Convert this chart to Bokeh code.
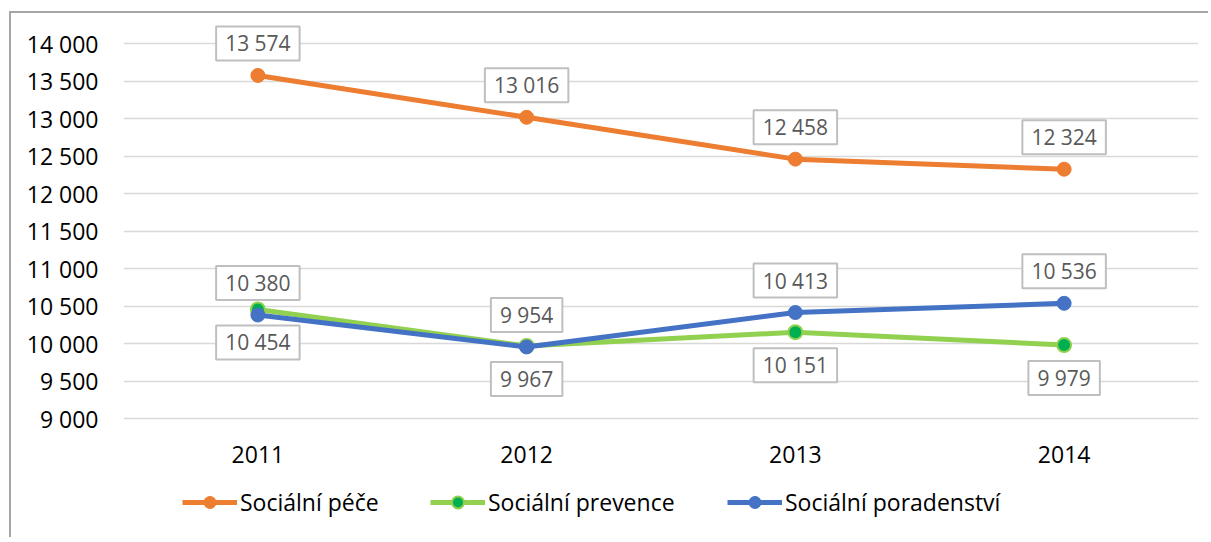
from bokeh.plotting import figure
from bokeh.models import (FactorRange, Range1d, FixedTicker, Legend, LegendItem, Label)
from bokeh.embed import file_html
from bokeh.resources import INLINE

years = ["2011", "2012", "2013", "2014"]
pece = [13574, 13016, 12458, 12324]
prevence = [10454, 9967, 10151, 9979]
poradenstvi = [10380, 9954, 10413, 10536]
series_names = ["Sociální péče", "Sociální prevence", "Sociální poradenství"]
y_ticks = [9000, 9500, 10000, 10500, 11000, 11500, 12000, 12500, 13000, 13500, 14000]
y_tick_labels = ["9 000", "9 500", "10 000", "10 500", "11 000", "11 500",
                 "12 000", "12 500", "13 000", "13 500", "14 000"]
y_axis_min, y_axis_max = 9000, 14000

FONT = "Open Sans"
ORANGE = "#ED7D31"
LGREEN = "#92D050"
DGREEN = "#00B050"
BLUE = "#4472C4"
PX_PER_UNIT = 0.075  # 75 px per 1000

def fmt(v):
    return f"{v:,}".replace(",", " ")

H = 526
TOP_PAD = 30
BOTTOM_PAD = H - TOP_PAD - (y_axis_max - y_axis_min) * PX_PER_UNIT
p = figure(width=1199, height=H, x_range=FactorRange(*years),
           y_range=Range1d(y_axis_min - BOTTOM_PAD / PX_PER_UNIT,
                           y_axis_max + TOP_PAD / PX_PER_UNIT),
           output_backend="svg", toolbar_location=None,
           min_border_left=112, min_border_right=12, min_border_top=0, min_border_bottom=0)
p.styles = {"margin-left": "9px", "margin-top": "11px",
            "border-left": "2px solid #A6A6A6", "border-top": "2px solid #A6A6A6"}
p.outline_line_color = None
p.background_fill_color = "white"
p.border_fill_color = "white"

p.xaxis.visible = False
p.xgrid.grid_line_color = None
p.ygrid.grid_line_color = "#D9D9D9"
p.ygrid.grid_line_width = 1.5
p.yaxis.ticker = FixedTicker(ticks=y_ticks)
p.yaxis.major_label_overrides = {t: l for t, l in zip(y_ticks, y_tick_labels)}
ax = p.yaxis
ax.axis_line_color = None
ax.major_tick_line_color = None
ax.minor_tick_line_color = None
ax.major_tick_out = 0
ax.major_tick_in = 0
ax.major_label_text_font = FONT
ax.major_label_text_font_size = "23px"
ax.major_label_text_color = "#000000"
ax.major_label_standoff = 25

# category (x-axis) labels
for i, yr in enumerate(years):
    p.add_layout(Label(x=i + 0.5, y=y_axis_min, y_offset=-36, text=yr, text_align="center",
                       text_baseline="middle", text_font=FONT, text_font_size="23px",
                       text_color="#000000"))

r_pece_l = p.line(years, pece, line_color=ORANGE, line_width=5)
r_pece_m = p.scatter(years, pece, size=14, fill_color=ORANGE, line_color=ORANGE)
r_prev_l = p.line(years, prevence, line_color=LGREEN, line_width=5)
r_prev_m = p.scatter(years, prevence, size=14, fill_color=DGREEN, line_color=LGREEN, line_width=2)
r_por_l = p.line(years, poradenstvi, line_color=BLUE, line_width=5)
r_por_m = p.scatter(years, poradenstvi, size=14, fill_color=BLUE, line_color=BLUE)

def add_label(i, y, off):
    p.add_layout(Label(x=i + 0.5, y=y, y_offset=off, text=fmt(y), text_align="center",
                       text_baseline="middle", text_font=FONT, text_font_size="21px",
                       text_color="#595959", background_fill_color="white",
                       border_line_color="#BFBFBF", border_line_width=2,
                       padding=(9, 3)))

for i, v in enumerate(pece):
    add_label(i, v, 32)
for i, v in enumerate(poradenstvi):
    add_label(i, v, 32)
for i, v in enumerate(prevence):
    add_label(i, v, -33)

legend_x = [59, 307, 604]
renders = [[r_pece_l, r_pece_m], [r_prev_l, r_prev_m], [r_por_l, r_por_m]]
for name, rs, lx in zip(series_names, renders, legend_x):
    leg = Legend(items=[LegendItem(label=name, renderers=rs)], location=(lx, 21),
                 orientation="horizontal", padding=0, margin=0, border_line_color=None,
                 background_fill_alpha=0, glyph_width=55, glyph_height=30,
                 label_height=30, label_standoff=3, label_text_font=FONT,
                 label_text_font_size="23px", label_text_color="#000000")
    p.add_layout(leg, "center")

open("out.html", "w").write(file_html(p, INLINE))
